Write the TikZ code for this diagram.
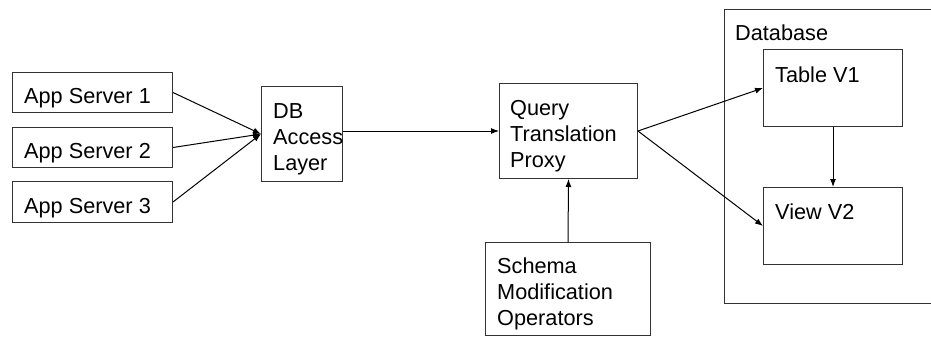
\documentclass[tikz,border=0pt]{standalone}
\usepackage{fontspec}
\setmainfont{Liberation Sans}
\usetikzlibrary{arrows.meta}
\tikzset{
  box/.style={draw=black!80, line width=1pt, inner sep=0pt, anchor=north west},
  txt/.style={anchor=base west, inner sep=0pt, font=\fontsize{21.7}{26}\selectfont},
  link/.style={draw=black, line width=1pt, -{Latex[length=8pt,width=6pt]}}
}
\begin{document}
\begin{tikzpicture}[x=1pt, y=-1pt]
  \useasboundingbox (0,0) rectangle (931,337);
  \clip (0,0) rectangle (931,337);

  % database container (runs off the right side)
  \node[box, minimum width=230pt, minimum height=294pt] (dbframe) at (724,9) {};
  \node[txt] (dblabel) at (735,41) {Database};

  % application servers
  \node[box, minimum width=160pt, minimum height=40pt] (app1) at (12,72) {};
  \node[txt] (app1t) at (24,103) {App Server 1};
  \node[box, minimum width=160pt, minimum height=40pt] (app2) at (12,127) {};
  \node[txt] (app2t) at (24,158) {App Server 2};
  \node[box, minimum width=160pt, minimum height=41pt] (app3) at (12,181) {};
  \node[txt] (app3t) at (24,213) {App Server 3};

  % access layer
  \node[box, minimum width=81pt, minimum height=95pt] (dal) at (261,86) {};
  \node[txt] (dalt1) at (273,118) {DB};
  \node[txt] (dalt2) at (273,144) {Access};
  \node[txt] (dalt3) at (273,170) {Layer};

  % proxy
  \node[box, minimum width=138pt, minimum height=95pt] (qtp) at (499,83) {};
  \node[txt] (qtpt1) at (510,115) {Query};
  \node[txt] (qtpt2) at (510,141) {Translation};
  \node[txt] (qtpt3) at (510,167) {Proxy};

  % schema operators
  \node[box, minimum width=165pt, minimum height=93pt] (smo) at (485,242) {};
  \node[txt] (smot1) at (497,273) {Schema};
  \node[txt] (smot2) at (497,299) {Modification};
  \node[txt] (smot3) at (497,325) {Operators};

  % table and view
  \node[box, minimum width=139pt, minimum height=77pt] (tv1) at (763,49) {};
  \node[txt] (tv1t) at (775,82) {Table V1};
  \node[box, minimum width=139pt, minimum height=77pt] (vv2) at (763,187) {};
  \node[txt] (vv2t) at (775,219) {View V2};

  % connectors
  \draw[link] (app1.east) -- (dal.west);
  \draw[link] (app2.east) -- (dal.west);
  \draw[link] (app3.east) -- (dal.west);
  \draw[link] (qtp.west -| dal.east) -- (qtp.west);
  \draw[link] (qtp.east) -- (tv1.west);
  \draw[link] (qtp.east) -- (vv2.west);
  \draw[link] (tv1.south) -- (vv2.north);
  \draw[link] (smo.north) -- (qtp.south);
\end{tikzpicture}
\end{document}
